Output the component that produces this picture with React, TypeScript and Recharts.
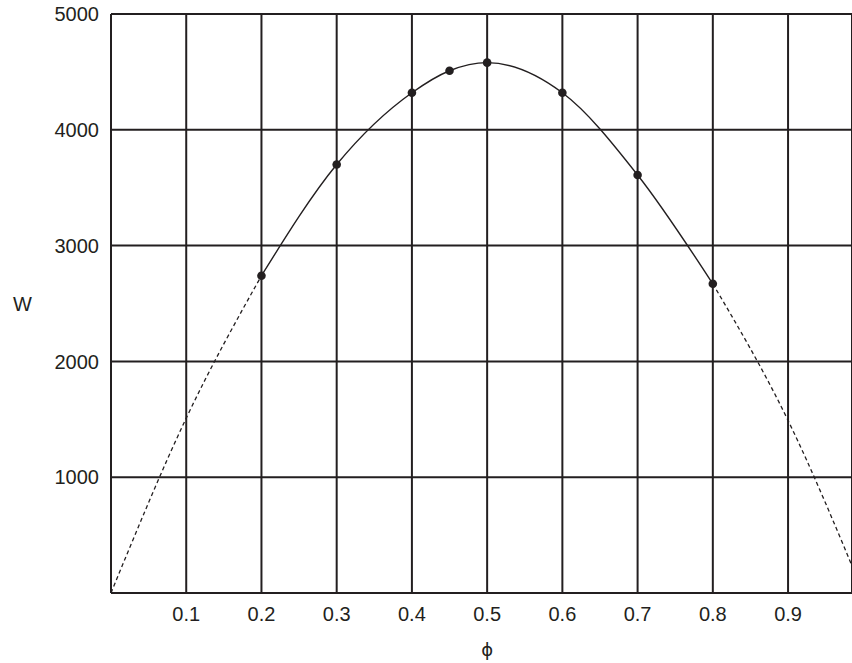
import React from 'react'
import { LineChart, Line, XAxis, YAxis, CartesianGrid } from 'recharts'

// values
const phiValues = [0, 0.1, 0.2, 0.3, 0.4, 0.45, 0.5, 0.6, 0.7, 0.8, 0.9, 1.0]
const measuredW = [null, null, 2740, 3700, 4320, 4510, 4580, 4320, 3610, 2670, null, null]
const extrapLeftW = [0, 1510, 2740, null, null, null, null, null, null, null, null, null]
const extrapRightW = [null, null, null, null, null, null, null, null, null, 2670, 1490, 0]

const xTicks = [0.1, 0.2, 0.3, 0.4, 0.5, 0.6, 0.7, 0.8, 0.9]
const yTicks = [1000, 2000, 3000, 4000, 5000]
const xDomainMax = 0.985

const data = phiValues.map((phi, i) => ({
  phi,
  measured: measuredW[i],
  left: extrapLeftW[i],
  right: extrapRightW[i],
}))

const INK = '#231f20'
const FONT = '"Liberation Sans", Arial, Helvetica, sans-serif'

function PhiLabel({ viewBox }: any) {
  if (!viewBox) return null
  const x = viewBox.x + viewBox.width * (0.5 / xDomainMax)
  return (
    <text x={x} y={656} textAnchor="middle" fontSize={18} fill={INK} fontFamily='"DejaVu Sans", sans-serif'>
      ϕ
    </text>
  )
}

export default function App() {
  return (
    <div style={{ position: 'absolute', left: 0, top: 0, width: 852, height: 663, overflow: 'hidden', background: '#fff' }}>
      <LineChart width={852} height={663} data={data} margin={{ top: 14, right: 0, left: 0, bottom: 0 }}>
        <CartesianGrid stroke={INK} strokeWidth={2} />
        <XAxis
          type="number"
          dataKey="phi"
          domain={[0, xDomainMax]}
          allowDataOverflow
          ticks={xTicks}
          height={70}
          tickLine={false}
          tickMargin={8}
          axisLine={{ stroke: INK, strokeWidth: 2 }}
          tick={{ fontSize: 20, fill: INK, fontFamily: FONT }}
          label={<PhiLabel />}
        />
        <YAxis
          type="number"
          domain={[0, 5000]}
          ticks={yTicks}
          width={111}
          tickLine={false}
          tickMargin={6}
          axisLine={{ stroke: INK, strokeWidth: 2 }}
          tick={{ fontSize: 20, fill: INK, fontFamily: FONT }}
          label={{ value: 'W', position: 'insideLeft', offset: 13, fontSize: 20, fill: INK, fontFamily: FONT }}
        />
        <Line
          type="monotone"
          dataKey="left"
          stroke={INK}
          strokeWidth={1.3}
          strokeDasharray="4 3"
          dot={false}
          isAnimationActive={false}
        />
        <Line
          type="monotone"
          dataKey="right"
          stroke={INK}
          strokeWidth={1.3}
          strokeDasharray="4 3"
          dot={false}
          isAnimationActive={false}
        />
        <Line
          type="monotone"
          dataKey="measured"
          stroke={INK}
          strokeWidth={1.4}
          dot={{ r: 4.3, fill: INK, stroke: 'none' }}
          isAnimationActive={false}
        />
      </LineChart>
    </div>
  )
}
